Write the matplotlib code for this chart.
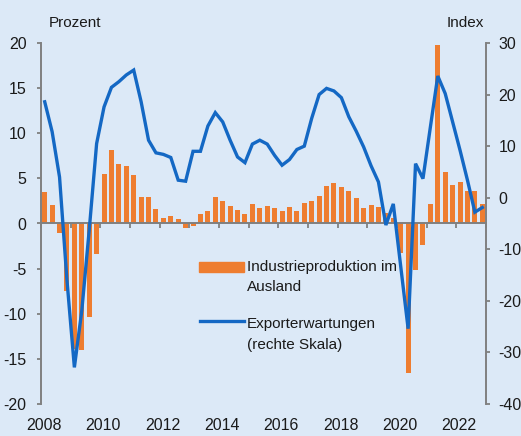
import matplotlib
matplotlib.use("Agg")
import matplotlib.pyplot as plt
from matplotlib.patches import Rectangle
from matplotlib.lines import Line2D
import numpy as np

# Quarterly data, 2008Q1 .. 2022Q4
start_year = 2008
# Industrieproduktion im Ausland, % ggü. Vorjahr (linke Skala)
prod_abroad = [
    3.5, 2.1, -1.1, -7.5,
    -13.9, -14.0, -10.4, -3.4,
    5.5, 8.1, 6.6, 6.4,
    5.4, 2.9, 2.9, 1.6,
    0.6, 0.85, 0.55, -0.45,
    -0.3, 1.05, 1.4, 2.95,
    2.5, 1.95, 1.5, 1.1,
    2.15, 1.7, 1.95, 1.7,
    1.4, 1.8, 1.4, 2.3,
    2.5, 3.1, 4.2, 4.45,
    4.0, 3.6, 2.8, 1.7,
    2.1, 1.8, 1.2, 0.6,
    -3.3, -16.6, -5.2, -2.4,
    2.2, 19.8, 5.7, 4.3,
    4.55, 3.65, 3.65, 2.2,
]
# Exporterwartungen, Index (rechte Skala)
export_exp = [
    18.6, 12.8, 4.0, -16.0,
    -32.9, -21.9, -6.3, 10.5,
    17.6, 21.4, 22.5, 23.8,
    24.75, 18.6, 11.15, 8.7,
    8.4, 7.8, 3.4, 3.2,
    9.0, 9.0, 13.9, 16.5,
    14.7, 11.15, 7.9, 6.8,
    10.4, 11.15, 10.4, 8.2,
    6.3, 7.4, 9.35, 10.0,
    15.4, 20.0, 21.2, 20.7,
    19.4, 15.7, 12.9, 9.85,
    6.2, 3.05, -5.3, -1.2,
    -13.3, -25.4, 6.6, 3.7,
    13.7, 23.6, 20.2, 14.7,
    9.2, 3.4, -2.8, -1.9,
]
year_labels = ["2008", "2010", "2012", "2014", "2016", "2018", "2020", "2022"]

BG = "#DCE9F7"
ORANGE = "#EE7D30"
BLUE = "#1468C4"
GREY = "#808080"
TXT = "#1a1a1a"
FS = 11
TICK_FS = 11.5

plt.rcParams['font.family'] = ['Liberation Sans', 'DejaVu Sans']
plt.rcParams['axes.unicode_minus'] = False

W, H = 521, 436
fig = plt.figure(figsize=(W / 100, H / 100), dpi=100)
fig.patch.set_facecolor(BG)

ax = fig.add_axes([41 / W, 1 - 404 / H, 445 / W, 361 / H])
ax.set_facecolor(BG)

# quarter centres in year units
x = start_year + 0.25 * np.arange(len(prod_abroad)) + 0.125

ax.bar(x, prod_abroad, width=0.17, color=ORANGE, zorder=1)
ax.set_xlim(2008, 2023)
ax.set_ylim(-20, 20)
ax.set_yticks(range(-20, 21, 5))
ax.spines[['top', 'right']].set_visible(False)
ax.spines['bottom'].set_position(('data', 0))
for s in ['left', 'bottom']:
    ax.spines[s].set_color(GREY)
    ax.spines[s].set_linewidth(1.4)
ax.set_xticks(range(2008, 2024))
ax.set_xticklabels([])
ax.tick_params(axis='x', length=3.5, width=1.3, color=GREY, direction='out')
ax.tick_params(axis='y', length=3, width=1.3, color=GREY, labelsize=TICK_FS,
               pad=7.5, labelcolor=TXT)

# year labels along the bottom edge
sec = ax.secondary_xaxis(0)
sec.set_xticks([int(y) + 0.1 for y in year_labels], labels=year_labels)
sec.spines['bottom'].set_visible(False)
sec.tick_params(length=0, pad=10, labelsize=TICK_FS, labelcolor=TXT)

ax2 = ax.twinx()
ax2.plot(x, export_exp, color=BLUE, lw=2.4, solid_joinstyle='miter')
ax2.set_ylim(-40, 30)
ax2.set_yticks(range(-40, 31, 10))
ax2.spines[['top', 'left', 'bottom']].set_visible(False)
ax2.spines['right'].set_color(GREY)
ax2.spines['right'].set_linewidth(1.4)
ax2.tick_params(axis='y', length=3, width=1.3, color=GREY, labelsize=TICK_FS,
                pad=6, labelcolor=TXT)

fig.text(49 / W, 1 - 23 / H, "Prozent", va='center', ha='left', fontsize=FS, color=TXT)
fig.text(484 / W, 1 - 23 / H, "Index", va='center', ha='right', fontsize=FS, color=TXT)

# legend
fig.add_artist(Rectangle((199 / W, 1 - 272 / H), 45 / W, 10 / H,
                         transform=fig.transFigure, color=ORANGE))
fig.add_artist(Line2D([200 / W, 244 / W], [1 - 321 / H, 1 - 321 / H],
                      transform=fig.transFigure, color=BLUE, lw=2.4))
legend_lines = [
    ("Industrieproduktion im", 270.7),
    ("Ausland", 290.7),
    ("Exporterwartungen", 327.7),
    ("(rechte Skala)", 348.7),
]
for txt, base in legend_lines:
    fig.text(247 / W, 1 - base / H, txt, va='baseline', ha='left', fontsize=FS, color=TXT)

fig.savefig("out.png", dpi=100, facecolor=BG)
